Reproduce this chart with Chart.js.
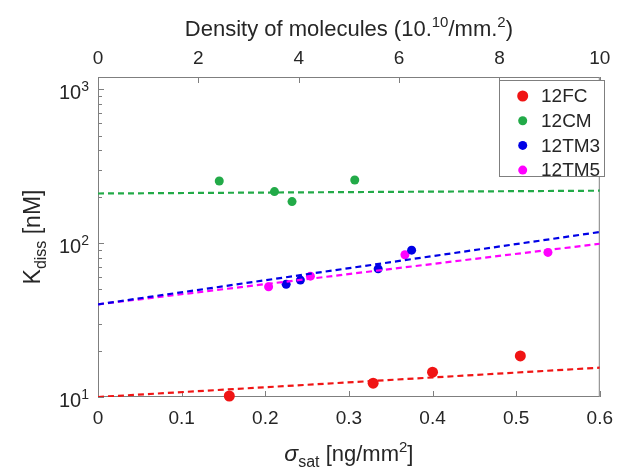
<!DOCTYPE html>
<html>
<head>
<meta charset="utf-8">
<script src="https://cdn.jsdelivr.net/npm/chart.js@4/dist/chart.umd.min.js"></script>
<style>
  html, body { margin: 0; padding: 0; background: #fff; }
  #wrap { width: 623px; height: 472px; }
</style>
</head>
<body>
<div id="wrap"><canvas id="kdChart" width="623" height="472"></canvas></div>
<script>
// values
const seriesNames = ["12FC", "12CM", "12TM3", "12TM5"];
const fcSigma = [0.157, 0.329, 0.400, 0.505];
const fcKdiss = [10.15, 12.3, 14.5, 18.5];
const cmSigma = [0.145, 0.211, 0.232, 0.307];
const cmKdiss = [253, 216, 186, 257];
const tm3Sigma = [0.225, 0.242, 0.335, 0.375];
const tm3Kdiss = [54, 57.5, 68, 90];
const tm5Sigma = [0.204, 0.254, 0.367, 0.538];
const tm5Kdiss = [52, 61, 84, 87];

// dashed fit lines, ends at sigma = 0 and 0.6
const fitSigma = [0, 0.6];
const fcFit = [10, 15.5];
const cmFit = [210, 219];
const tm3Fit = [40, 118];
const tm5Fit = [40, 99];

const sigmaTicks = [0, 0.1, 0.2, 0.3, 0.4, 0.5, 0.6];
const densityTicks = [0, 2, 4, 6, 8, 10];
const kdissMajor = [10, 100, 1000];

const colors = ["rgb(240,20,20)", "rgb(34,170,72)", "rgb(0,0,230)", "rgb(255,0,255)"];
const textColor = "#262626";
const axisColor = "#7f7f7f";
const FONT = "'Liberation Sans', Arial, sans-serif";

function pts(xs, ys) {
  return xs.map((x, i) => ({ x, y: ys[i] }));
}

const markers = [
  [fcSigma, fcKdiss, 5.5],
  [cmSigma, cmKdiss, 4.5],
  [tm3Sigma, tm3Kdiss, 4.5],
  [tm5Sigma, tm5Kdiss, 4.5],
];
const fits = [fcFit, cmFit, tm3Fit, tm5Fit];

const datasets = [];
fits.forEach((f, i) => {
  datasets.push({
    label: seriesNames[i] + " fit",
    data: pts(fitSigma, f),
    showLine: true,
    borderColor: colors[i],
    borderWidth: 2.2,
    borderDash: [6, 4],
    pointRadius: 0,
    fill: false,
  });
});
markers.forEach(([xs, ys, r], i) => {
  datasets.push({
    label: seriesNames[i],
    data: pts(xs, ys),
    showLine: false,
    backgroundColor: colors[i],
    borderColor: colors[i],
    borderWidth: 0,
    pointRadius: r,
    clip: false,
  });
});

function richText(ctx, parts, x, y, align) {
  // parts: [text, size, dy, italic]
  let width = 0;
  parts.forEach((p) => {
    ctx.font = (p[3] ? "italic " : "") + p[1] + "px " + FONT;
    width += ctx.measureText(p[0]).width;
  });
  let cx = align === "center" ? x - width / 2 : x;
  ctx.textAlign = "left";
  ctx.textBaseline = "alphabetic";
  parts.forEach((p) => {
    ctx.font = (p[3] ? "italic " : "") + p[1] + "px " + FONT;
    ctx.fillText(p[0], cx, y + p[2]);
    cx += ctx.measureText(p[0]).width;
  });
}

const decorations = {
  id: "decorations",
  beforeDatasetsDraw(chart) {
    const { ctx, chartArea: a, scales } = chart;
    ctx.save();
    ctx.strokeStyle = axisColor;
    ctx.lineWidth = 1;
    ctx.strokeRect(a.left + 0.5, a.top + 0.5, a.right - a.left - 1, a.bottom - a.top - 1);

    ctx.beginPath();
    sigmaTicks.forEach((v) => {
      const px = Math.round(scales.x.getPixelForValue(v)) + 0.5;
      ctx.moveTo(px, a.bottom);
      ctx.lineTo(px, a.bottom - 6);
    });
    densityTicks.forEach((v) => {
      const px = Math.round(scales.x2.getPixelForValue(v)) + 0.5;
      ctx.moveTo(px, a.top);
      ctx.lineTo(px, a.top + 6);
    });
    for (let dec = 10; dec <= 1000; dec *= 10) {
      for (let m = 1; m <= 9; m += 1) {
        const v = dec * m;
        if (v > 1200 || (dec === 1000 && m > 1)) continue;
        const py = Math.round(scales.y.getPixelForValue(v)) + 0.5;
        ctx.moveTo(a.left, py);
        ctx.lineTo(a.left + (m === 1 ? 6 : 4), py);
      }
    }
    ctx.stroke();

    // y tick labels 10^n
    ctx.fillStyle = textColor;
    kdissMajor.forEach((v) => {
      const py = scales.y.getPixelForValue(v);
      const exp = String(Math.round(Math.log10(v)));
      ctx.font = "14px " + FONT;
      const ew = ctx.measureText(exp).width;
      ctx.font = "20px " + FONT;
      const bw = ctx.measureText("10").width;
      const xr = a.left - 9;
      ctx.textAlign = "left";
      ctx.textBaseline = "alphabetic";
      ctx.fillText("10", xr - ew - bw, py + 10);
      ctx.font = "14px " + FONT;
      ctx.fillText(exp, xr - ew, py + 2);
    });

    const midX = (a.left + a.right) / 2;
    // top title
    richText(ctx, [
      ["Density of molecules (10.", 22, 0],
      ["10", 15, -9],
      ["/mm.", 22, 0],
      ["2", 15, -9],
      [")", 22, 0],
    ], midX, 36, "center");
    // bottom title
    richText(ctx, [
      ["\u03c3", 23, 0, true],
      ["sat", 16, 6],
      [" [ng/mm", 22, 0],
      ["2", 15, -9],
      ["]", 22, 0],
    ], midX, 461, "center");
    // y title
    ctx.save();
    ctx.translate(40, (a.top + a.bottom) / 2);
    ctx.rotate(-Math.PI / 2);
    richText(ctx, [
      ["K", 23, 0],
      ["diss", 16, 6],
      [" [nM]", 23, 0],
    ], 0, 0, "center");
    ctx.restore();
    ctx.restore();
  },
  afterDatasetsDraw(chart) {
    const { ctx } = chart;
    const box = { x: 499.5, y: 80.5, w: 105, h: 96 };
    ctx.save();
    ctx.fillStyle = "#fff";
    ctx.strokeStyle = axisColor;
    ctx.lineWidth = 1;
    ctx.fillRect(box.x, box.y, box.w, box.h);
    ctx.strokeRect(box.x, box.y, box.w, box.h);
    seriesNames.forEach((name, i) => {
      const cy = 96 + i * 24.7;
      ctx.beginPath();
      ctx.fillStyle = colors[i];
      ctx.arc(522.7, cy, i === 0 ? 5.5 : 4.5, 0, Math.PI * 2);
      ctx.fill();
      ctx.fillStyle = textColor;
      ctx.font = "19px " + FONT;
      ctx.textAlign = "left";
      ctx.textBaseline = "middle";
      ctx.fillText(name, 541, cy + 1);
    });
    ctx.restore();
  },
};

new Chart(document.getElementById("kdChart"), {
  type: "scatter",
  data: { datasets },
  options: {
    responsive: false,
    animation: false,
    events: [],
    layout: { padding: { left: 0, right: 15, top: 0, bottom: 0 } },
    plugins: {
      legend: { display: false },
      tooltip: { enabled: false },
    },
    scales: {
      x: {
        type: "linear",
        position: "bottom",
        min: 0,
        max: 0.6,
        afterFit(scale) { scale.height = 75; },
        afterBuildTicks(scale) { scale.ticks = sigmaTicks.map((v) => ({ value: v })); },
        grid: { display: false, drawTicks: false },
        border: { display: false },
        ticks: {
          color: textColor,
          padding: 10,
          maxRotation: 0,
          font: { family: FONT, size: 19 },
          callback(value) { return String(Math.round(value * 10) / 10); },
        },
      },
      x2: {
        type: "linear",
        position: "top",
        min: 0,
        max: 10,
        afterFit(scale) { scale.height = 77; },
        afterBuildTicks(scale) { scale.ticks = densityTicks.map((v) => ({ value: v })); },
        grid: { display: false, drawTicks: false },
        border: { display: false },
        ticks: {
          color: textColor,
          padding: 7,
          maxRotation: 0,
          font: { family: FONT, size: 19 },
        },
      },
      y: {
        type: "logarithmic",
        min: 10,
        max: 1200,
        afterFit(scale) { scale.width = 98; },
        grid: { display: false, drawTicks: false },
        border: { display: false },
        ticks: { display: false },
      },
    },
  },
  plugins: [decorations],
});
</script>
</body>
</html>
